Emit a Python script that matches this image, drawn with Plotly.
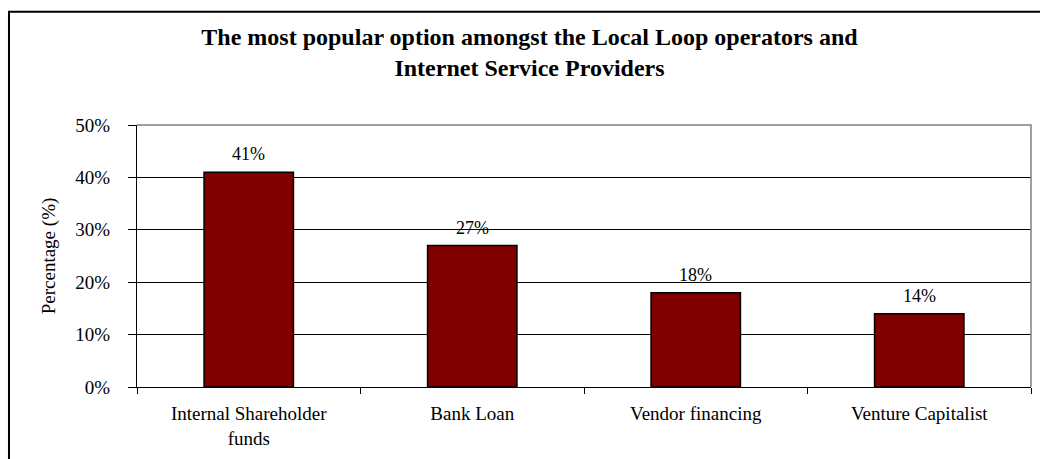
import plotly.graph_objects as go

# Financing sources and the share of respondents choosing each
categories = ["Internal Shareholder<br>funds", "Bank Loan", "Vendor financing", "Venture Capitalist"]
shares = [41, 27, 18, 14]
y_ticks = [0, 10, 20, 30, 40, 50]
y_tick_labels = [f"{v}%" for v in y_ticks]

SERIF = "Liberation Serif, Times New Roman, serif"

fig = go.Figure(
    go.Bar(
        x=categories,
        y=shares,
        width=0.4,
        marker=dict(color="#800000", line=dict(color="#000000", width=1.5)),
        hoverinfo="skip",
    )
)

# value labels above each bar
for cat, val in zip(categories, shares):
    fig.add_annotation(
        x=cat, y=val, text=f"{val}%", showarrow=False,
        yanchor="bottom", yshift=6,
        font=dict(family=SERIF, size=18, color="#000000"),
    )

# gray top/right edge of the plotting area
fig.add_shape(
    type="path", xref="paper", yref="paper",
    path="M 0,1 L 1,1 L 1,0",
    line=dict(color="#808080", width=1.5), layer="above",
)

# outer chart frame
fig.add_shape(
    type="rect", xref="paper", yref="paper",
    x0=-0.1432, y0=-0.32, x1=1.021, y1=1.432,
    line=dict(color="#000000", width=2), fillcolor="rgba(0,0,0,0)", layer="below",
)

fig.update_layout(
    width=1040, height=459,
    margin=dict(l=137, r=9, t=125, b=72, autoexpand=False),
    paper_bgcolor="#ffffff", plot_bgcolor="#ffffff",
    font=dict(family=SERIF, color="#000000"),
    showlegend=False,
    bargap=0.6,
    title=dict(
        text="The most popular option amongst the Local Loop operators and<br>Internet Service Providers",
        x=529.5 / 1040, xanchor="center",
        y=1 - 45 / 459, yanchor="top",
        font=dict(family=SERIF, size=24, color="#000000", weight="bold"),
    ),
    xaxis=dict(
        showline=True, linecolor="#000000", linewidth=1,
        ticks="outside", tickson="boundaries", ticklen=6, tickcolor="#000000",
        showgrid=False, zeroline=False,
        tickfont=dict(family=SERIF, size=19, color="#000000"),
        ticklabelstandoff=9,
    ),
    yaxis=dict(
        range=[0, 50], tickmode="array", tickvals=y_ticks, ticktext=y_tick_labels,
        showline=True, linecolor="#000000", linewidth=1,
        ticks="outside", ticklen=8, tickcolor="#000000",
        showgrid=True, gridcolor="#000000", gridwidth=1, zeroline=False,
        tickfont=dict(family=SERIF, size=19, color="#000000"),
        ticklabelstandoff=14,
        title=dict(text="Percentage (%)", standoff=14,
                   font=dict(family=SERIF, size=19, color="#000000")),
    ),
)

fig.write_html("out.html")
